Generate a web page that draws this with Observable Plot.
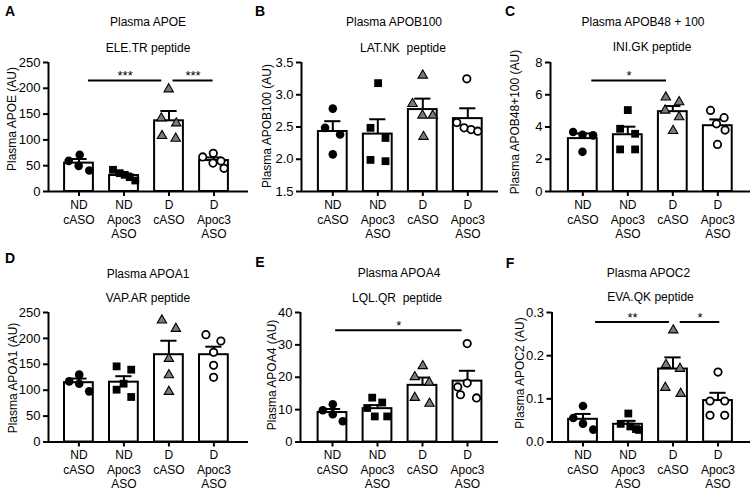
<!DOCTYPE html>
<html>
<head>
<meta charset="utf-8">
<script src="https://cdn.jsdelivr.net/npm/d3@7"></script>
<script src="https://cdn.jsdelivr.net/npm/@observablehq/plot@0.6"></script>
<style>
  html, body { margin: 0; padding: 0; background: #fff; }
  #chart { position: relative; width: 752px; height: 494px; overflow: hidden; font-family: "Liberation Sans", Arial, sans-serif; color: #000; }
  #chart svg { position: absolute; overflow: visible; }
  .lbl { position: absolute; white-space: pre; transform: translate(-50%, -50%); line-height: 1; }
  .letter { font-weight: bold; font-size: 14px; }
  .ttl { font-size: 12px; }
  .ylab { font-size: 12px; transform: translate(-50%, -50%) rotate(-90deg); }
</style>
</head>
<body>
<div id="chart"></div>
<script>
// ---------- data ----------
const groups = ["ND\ncASO", "ND\nApoc3\nASO", "D\ncASO", "D\nApoc3\nASO"];

// A: Plasma APOE
const apoeValues = [[59.4, 71.1, 49.7, 40.7], [42, 35.5, 32.3, 27.8, 21.3], [198.4, 142.1, 132.4, 107.9, 102.7], [67, 74, 59, 55, 45]];
const apoeJitter = [[-10.3, 0.7, -0.3, 10.3], [-11, -4.3, 0.7, 5.7, 11.3], [-0.3, -7.7, 7.3, -7, 6.7], [-11.3, -0.7, 7, -1, 10]];
const apoeMean = [55, 31, 137, 60];
const apoeErrTop = [63, 35, 156, 66];
const apoeSig = [{x1: 0.21, x2: 1.84, y: 215, label: "***"}, {x1: 2.09, x2: 2.98, y: 215, label: "***"}];

// B: Plasma APOB100
const apob100Values = [[2.785, 2.487, 2.384, 2.076], [3.18, 2.487, 2.33, 1.99, 1.97], [3.30, 2.86, 2.68, 2.68, 2.35], [3.247, 2.569, 2.487, 2.46, 2.435]];
const apob100Jitter = [[0, -7.7, 7.3, 0], [0.3, -7.3, 7.7, -7.3, 7.7], [0, -10.3, -0.3, 10, 0.7], [-1, -11, -3.7, 3.3, 10]];
const apob100Mean = [2.43, 2.39, 2.77, 2.63];
const apob100ErrTop = [2.59, 2.62, 2.94, 2.79];
const apob100Sig = [];

// C: Plasma APOB48 + 100
const apob48Values = [[3.69, 3.52, 3.48, 2.46], [5.05, 3.89, 3.58, 2.61, 2.61], [5.84, 5.55, 5.03, 4.62, 3.77], [5.03, 4.58, 4.2, 3.81, 2.92]];
const apob48Jitter = [[-9.7, -0.3, 10.3, -0.3], [0, -7.7, 7.3, -7.7, 7.3], [-7, 6.3, -7.7, 6.3, 0.3], [-7.3, 6.3, -1.3, 7.3, -0.3]];
const apob48Mean = [3.28, 3.52, 4.95, 4.08];
const apob48ErrTop = [3.6, 4.02, 5.3, 4.47];
const apob48Sig = [{x1: 0.2, x2: 1.86, y: 6.89, label: "*"}];

// D: Plasma APOA1
const apoa1Values = [[117.1, 130, 112.6, 97.8], [146, 139.6, 112.6, 101, 86.9], [234.9, 218.8, 160.9, 129.3, 97.2], [207.2, 195, 173.1, 148, 124.8]];
const apoa1Jitter = [[-9.7, 0.3, 0.3, 10.3], [-7.3, 7.3, -0.3, -7.3, 7.3], [-7, 7, 0, 0, 0], [-8, 7, -0.3, -0.3, -0.3]];
const apoa1Mean = [114.5, 115.5, 168.5, 168.5];
const apoa1ErrTop = [122.5, 127, 195.5, 184];
const apoa1Sig = [];

// E: Plasma APOA4
const apoa4Values = [[9.79, 11.65, 8.56, 6.39], [13.7, 12.2, 10.5, 7.9, 7.9], [23.5, 20.1, 18.4, 13.7, 11.9], [30.4, 18.2, 17.0, 14.6, 13.6]];
const apoa4Jitter = [[-9.7, 0.3, 0.3, 10.3], [-5.3, 4.7, -10.3, -2.7, 9.7], [0.3, -7.7, 6.7, -7.7, 7], [-0.3, -0.3, -9.7, -7, 9]];
const apoa4Mean = [9.1, 10.3, 17.5, 18.8];
const apoa4ErrTop = [10.2, 11.4, 19.9, 22];
const apoa4Sig = [{x1: 0.07, x2: 2.88, y: 34.5, label: "*"}];

// F: Plasma APOC2
const apoc2Values = [[0.0835, 0.0557, 0.0425, 0.0286], [0.066, 0.042, 0.036, 0.030, 0.028], [0.259, 0.179, 0.170, 0.126, 0.112], [0.162, 0.095, 0.095, 0.062, 0.062]];
const apoc2Jitter = [[0, -9.7, 0, 10.3], [0.3, -7.3, 2.3, 8, 11], [0.3, -7, 7, -7.7, 7.7], [0, -8, 6.7, -8, 6.7]];
const apoc2Mean = [0.0526, 0.041, 0.169, 0.096];
const apoc2ErrTop = [0.065, 0.049, 0.196, 0.114];
const apoc2Sig = [{x1: 0.28, x2: 1.92, y: 0.278, label: "**"}, {x1: 2.16, x2: 3.04, y: 0.278, label: "*"}];

// y ticks
const ticksA = [0, 50, 100, 150, 200, 250];
const ticksB = [1.5, 2.0, 2.5, 3.0, 3.5];
const ticksC = [0, 2, 4, 6, 8];
const ticksD = [0, 50, 100, 150, 200, 250];
const ticksE = [0, 10, 20, 30, 40];
const ticksF = [0, 0.1, 0.2, 0.3];

// ---------- layout / style ----------
const STEP = 45;          // px between group centres
const HALF = 0.32;        // half bar width (group units)
const CAP = 0.18;         // half error cap width (group units)
const groupSymbol = ["circle", "square", "triangle", "circle"];
const groupFill = ["black", "black", "#7b7b7b", "white"];
const groupStroke = ["none", "none", "black", "black"];
const groupStrokeW = [0, 0, 1.1, 1.8];
const groupR = [4.3, 4.4, 3.5, 3.7];

const panels = [
  {letter: "A", title: "Plasma APOE", sub: "ELE.TR peptide", ylab: "Plasma APOE (AU)",
   values: apoeValues, jitter: apoeJitter, mean: apoeMean, err: apoeErrTop, sig: apoeSig, ticks: ticksA, fmt: d3.format("d"),
   left: 0, top: 0, width: 250, height: 245, ml: 48, mt: 62, mb: 54, c0: 30.5,
   letterPos: [10, 11], titlePos: [148, 22.3], subPos: [148, 47.7], ylabPos: [12, 118.5], xdy: 7},
  {letter: "B", title: "Plasma APOB100", sub: "LAT.NK  peptide", ylab: "Plasma APOB100 (AU)",
   values: apob100Values, jitter: apob100Jitter, mean: apob100Mean, err: apob100ErrTop, sig: apob100Sig, ticks: ticksB, fmt: d3.format(".1f"),
   left: 250, top: 0, width: 250, height: 245, ml: 51, mt: 62, mb: 54, c0: 31.3,
   letterPos: [260, 11], titlePos: [394, 22.3], subPos: [403, 47.7], ylabPos: [266.7, 126], xdy: 7},
  {letter: "C", title: "Plasma APOB48 + 100", sub: "INI.GK peptide", ylab: "Plasma APOB48+100 (AU)",
   values: apob48Values, jitter: apob48Jitter, mean: apob48Mean, err: apob48ErrTop, sig: apob48Sig, ticks: ticksC, fmt: d3.format("d"),
   left: 500, top: 0, width: 252, height: 245, ml: 50, mt: 62, mb: 54, c0: 32.3,
   letterPos: [510, 11], titlePos: [643, 21.7], subPos: [652, 46.7], ylabPos: [515, 121.7], xdy: 7},
  {letter: "D", title: "Plasma APOA1", sub: "VAP.AR peptide", ylab: "Plasma APOA1 (AU)",
   values: apoa1Values, jitter: apoa1Jitter, mean: apoa1Mean, err: apoa1ErrTop, sig: apoa1Sig, ticks: ticksD, fmt: d3.format("d"),
   left: 0, top: 245, width: 250, height: 249, ml: 48, mt: 67, mb: 52.5, c0: 30.4,
   letterPos: [10, 257.5], titlePos: [148, 274.3], subPos: [148, 297.7], ylabPos: [13.3, 378], xdy: 6.5},
  {letter: "E", title: "Plasma APOA4", sub: "LQL.QR  peptide", ylab: "Plasma APOA4 (AU)",
   values: apoa4Values, jitter: apoa4Jitter, mean: apoa4Mean, err: apoa4ErrTop, sig: apoa4Sig, ticks: ticksE, fmt: d3.format("d"),
   left: 250, top: 245, width: 250, height: 249, ml: 50, mt: 67, mb: 52.5, c0: 32,
   letterPos: [260, 261.7], titlePos: [399, 273.3], subPos: [397, 297.7], ylabPos: [271.7, 375], xdy: 6.5},
  {letter: "F", title: "Plasma APOC2", sub: "EVA.QK peptide", ylab: "Plasma APOC2 (AU)",
   values: apoc2Values, jitter: apoc2Jitter, mean: apoc2Mean, err: apoc2ErrTop, sig: apoc2Sig, ticks: ticksF, fmt: d3.format(".1f"),
   left: 500, top: 245, width: 252, height: 249, ml: 51.5, mt: 67, mb: 52.5, c0: 31,
   letterPos: [510, 262.5], titlePos: [648.5, 273.3], subPos: [650.5, 296.7], ylabPos: [520, 373.3], xdy: 6.5}
];

const root = document.getElementById("chart");

function addLabel(text, [x, y], cls) {
  const el = document.createElement("div");
  el.className = "lbl " + cls;
  el.textContent = text;
  el.style.left = x + "px";
  el.style.top = y + "px";
  root.appendChild(el);
}

for (const p of panels) {
  const mr = 2;
  const L = p.width - p.ml - mr;
  const yMin = p.ticks[0], yMax = p.ticks[p.ticks.length - 1];
  const xDomain = [-p.c0 / STEP, (L - p.c0) / STEP];

  const pts = [];
  p.values.forEach((vals, g) => vals.forEach((v, k) => pts.push({g, v, x: g + p.jitter[g][k] / STEP})));
  const bars = p.mean.map((m, g) => ({g, m, e: p.err[g]}));

  const dotMarks = [0, 1, 2, 3].map(g => Plot.dot(pts.filter(d => d.g === g), {
    x: "x", y: "v", symbol: groupSymbol[g], r: groupR[g],
    fill: groupFill[g], stroke: groupStroke[g], strokeWidth: groupStrokeW[g]
  }));

  const svg = Plot.plot({
    width: p.width, height: p.height,
    marginLeft: p.ml, marginRight: mr, marginTop: p.mt, marginBottom: p.mb,
    style: {fontFamily: "Liberation Sans, Arial, sans-serif", fontSize: "13px", color: "black", background: "transparent", overflow: "visible"},
    x: {domain: xDomain},
    y: {domain: [yMin, yMax]},
    marks: [
      Plot.rect(bars, {x1: d => d.g - HALF, x2: d => d.g + HALF, y1: yMin, y2: "m", fill: "white", stroke: "black", strokeWidth: 2}),
      Plot.ruleX(bars, {x: "g", y1: "m", y2: "e", stroke: "black", strokeWidth: 2}),
      Plot.ruleY(bars, {y: "e", x1: d => d.g - CAP, x2: d => d.g + CAP, stroke: "black", strokeWidth: 2}),
      ...dotMarks,
      Plot.ruleY(p.sig, {y: "y", x1: "x1", x2: "x2", stroke: "black", strokeWidth: 2}),
      Plot.text(p.sig, {x: d => (d.x1 + d.x2) / 2, y: "y", text: "label", fontSize: 13, lineAnchor: "middle", dy: -4.5}),
      Plot.ruleY([yMin], {stroke: "black", strokeWidth: 2}),
      Plot.ruleX([xDomain[0]], {y1: yMin, y2: yMax, stroke: "black", strokeWidth: 2}),
      Plot.axisY({ticks: p.ticks, tickFormat: p.fmt, tickSize: 5, tickPadding: 3, fontSize: 13, strokeWidth: 2, label: null}),
      Plot.axisX({ticks: [0, 1, 2, 3], tickSize: 5, tickFormat: () => "", strokeWidth: 2, label: null}),
      Plot.text(groups, {x: (d, i) => i, frameAnchor: "bottom", lineAnchor: "top", dy: p.xdy, fontSize: 12, lineHeight: 1.22, text: d => d})
    ]
  });
  svg.style.left = p.left + "px";
  svg.style.top = p.top + "px";
  root.appendChild(svg);

  addLabel(p.letter, p.letterPos, "letter");
  addLabel(p.title, p.titlePos, "ttl");
  addLabel(p.sub, p.subPos, "ttl");
  addLabel(p.ylab, p.ylabPos, "ylab");
}
</script>
</body>
</html>
